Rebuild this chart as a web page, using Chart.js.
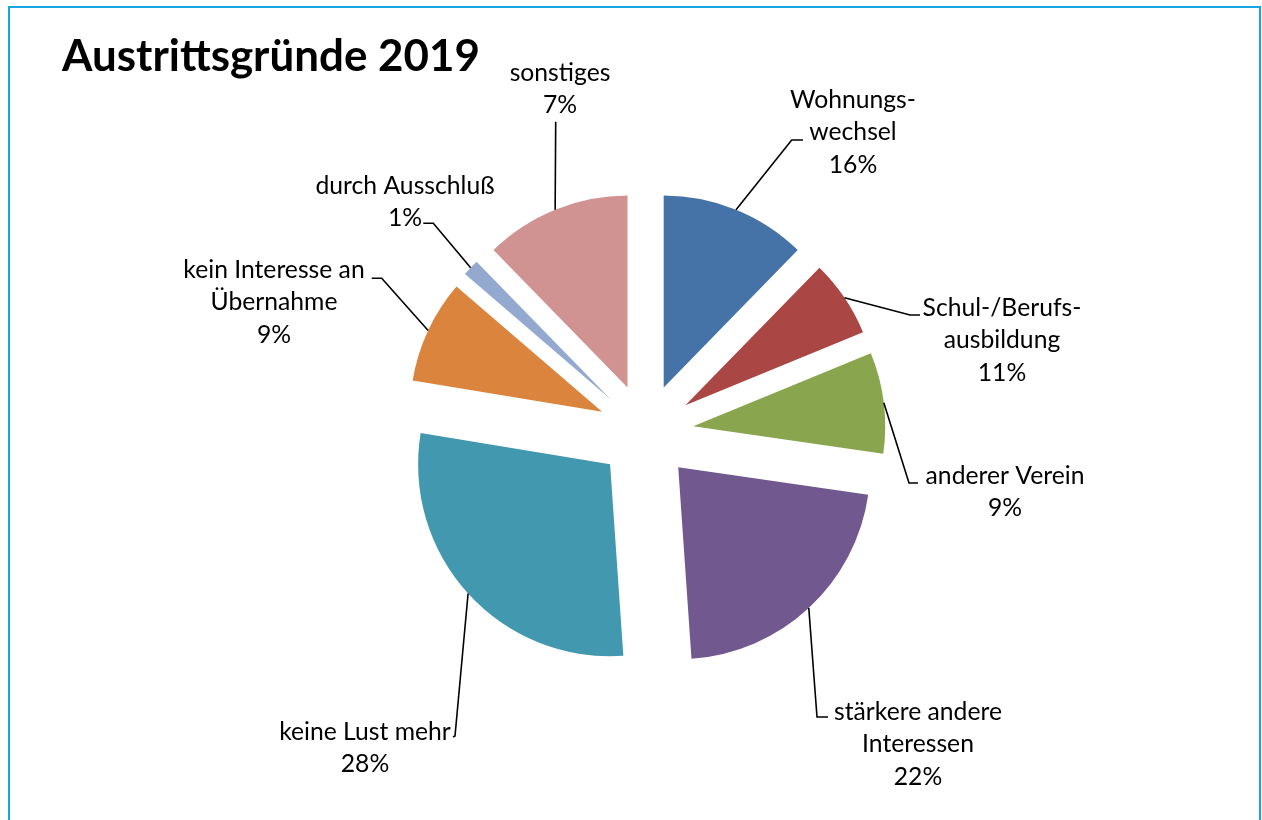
<!DOCTYPE html>
<html><head><meta charset="utf-8">
<script src="https://cdn.jsdelivr.net/npm/chart.js@4.4.1/dist/chart.umd.min.js"></script>
<style>html,body{margin:0;padding:0;background:#fff;overflow:hidden}canvas{display:block}</style>
</head><body>
<canvas id="c" width="1262" height="820"></canvas>
<script>
// ---- data ----
const categories = ["Wohnungswechsel","Schul-/Berufsausbildung","anderer Verein","stärkere andere Interessen","keine Lust mehr","kein Interesse an Übernahme","durch Ausschluß","sonstiges"];
const labelLines = [["Wohnungs-","wechsel"],["Schul-/Berufs-","ausbildung"],["anderer Verein"],["stärkere andere","Interessen"],["keine Lust mehr"],["kein Interesse an","Übernahme"],["durch Ausschluß"],["sonstiges"]];
const sliceValues = [12.3, 6.5, 8.5, 21.6, 28.7, 8.7, 1.4, 12.3];
const percentLabels = ["16%","11%","9%","22%","28%","9%","1%","7%"];
const titleText = "Austrittsgründe 2019";
const colors = ["#4572A7","#AA4643","#89A54E","#71588F","#4198AF","#DB843D","#93A9CF","#D19392"];

// ---- layout (label text centres and leader-line elbows) ----
const EXPLODE = 48;
const LINE_H = 32.5;
const FONT = "Lato, 'Open Sans', sans-serif";
const labelLayout = [
  {cx:853,  cy:100, elbow:[791.7,140], end:[803,140]},
  {cx:1002, cy:308, elbow:[910,315],   end:[920,315]},
  {cx:1005, cy:476, elbow:[909,483],   end:[918,483]},
  {cx:918,  cy:712, elbow:[817,717],   end:[828,717]},
  {cx:365,  cy:732, elbow:[455,736],   end:[453,737]},
  {cx:274,  cy:270, elbow:[381.7,278.3], end:[371.7,278.3]},
  {cx:405,  cy:186, elbow:[433.3,223.3], end:[423.3,223.3]},
  {cx:560,  cy:73,  elbow:[555.7,121.7], end:[555.7,121.7]}
];

function fitSize(ctx, text, weight, target){
  ctx.font = weight + " 100px " + FONT;
  return 100 * target / ctx.measureText(text).width;
}

const explodePlugin = {
  id:'explode',
  beforeDraw(chart){
    const ctx = chart.ctx;
    ctx.save();
    ctx.fillStyle = '#fff'; ctx.fillRect(0,0,chart.width,chart.height);
    ctx.fillStyle = '#17a6e2';
    ctx.fillRect(8,6,2,chart.height);
    ctx.fillRect(8,6,1253,2);
    ctx.fillRect(1259,6,2,chart.height);
    ctx.restore();
  },
  beforeDatasetDraw(chart, args){
    const ctx = chart.ctx;
    args.meta.data.forEach(arc => {
      const mid = (arc.startAngle + arc.endAngle) / 2;
      ctx.save();
      ctx.translate(Math.cos(mid)*EXPLODE, Math.sin(mid)*EXPLODE);
      arc.draw(ctx);
      ctx.restore();
    });
    return false;
  },
  afterDraw(chart){
    const ctx = chart.ctx;
    const meta = chart.getDatasetMeta(0);
    ctx.save();
    // title
    const tSize = fitSize(ctx, titleText, 'bold', 418);
    ctx.font = 'bold ' + tSize.toFixed(2) + 'px ' + FONT;
    ctx.fillStyle = '#000';
    ctx.textAlign = 'left'; ctx.textBaseline = 'alphabetic';
    ctx.fillText(titleText, 62, 71);
    // labels
    const lSize = fitSize(ctx, 'Wohnungs-', 'normal', 126);
    meta.data.forEach((arc, i) => {
      const L = labelLayout[i];
      const mid = (arc.startAngle + arc.endAngle) / 2;
      const r = arc.outerRadius;
      const sx = arc.x + Math.cos(mid)*(EXPLODE + r);
      const sy = arc.y + Math.sin(mid)*(EXPLODE + r);
      ctx.strokeStyle = '#000'; ctx.lineWidth = 1.6;
      ctx.beginPath();
      ctx.moveTo(sx, sy);
      ctx.lineTo(L.elbow[0], L.elbow[1]);
      ctx.lineTo(L.end[0], L.end[1]);
      ctx.stroke();
      ctx.font = 'normal ' + lSize.toFixed(2) + 'px ' + FONT;
      ctx.fillStyle = '#000';
      ctx.textAlign = 'center'; ctx.textBaseline = 'middle';
      const lines = labelLines[i].concat([percentLabels[i]]);
      lines.forEach((t, k) => ctx.fillText(t, L.cx, L.cy + k*LINE_H));
    });
    ctx.restore();
  }
};

new Chart(document.getElementById('c'), {
  type: 'pie',
  data: {
    labels: categories,
    datasets: [{ data: sliceValues, backgroundColor: colors, borderWidth: 0, hoverOffset: 0 }]
  },
  options: {
    responsive: false,
    animation: false,
    events: [],
    layout: { padding: { left: 453.6, right: 424.4, top: 240, bottom: 196 } },
    plugins: { legend: { display: false }, tooltip: { enabled: false }, title: { display: false } }
  },
  plugins: [explodePlugin]
});
</script>
</body></html>
